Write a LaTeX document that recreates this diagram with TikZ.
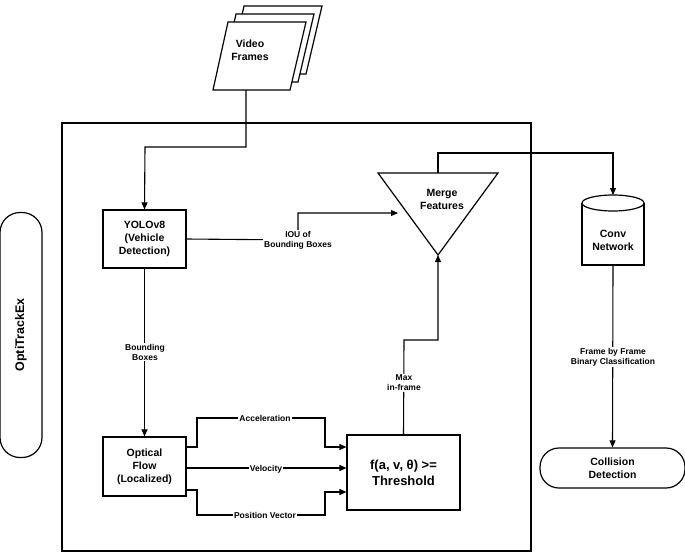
\documentclass[tikz,border=0pt]{standalone}
\usepackage{fontspec}
\setmainfont{Liberation Sans}
\usetikzlibrary{arrows.meta,shapes.geometric}
\begin{document}
\begin{tikzpicture}[x=1pt,y=-1pt,
  line width=1.2pt,
  arr/.style={-{Triangle[length=7pt,width=6pt]},line width=1.1pt},
  box/.style={draw,fill=white,font=\bfseries\fontsize{10.5}{13}\selectfont,align=center,inner sep=0pt},
  lbl/.style={fill=white,font=\bfseries\fontsize{8.5}{10}\selectfont,align=center,inner sep=1pt},
  para/.style={draw,fill=white}]
\useasboundingbox (0,0) rectangle (685,552);
% big frame
\draw (62,123) rectangle (531,551);
% video frames
\foreach \d in {16,8}{\draw[para] (228+\d,22-\d) -- (306+\d,22-\d) -- (290+\d,90-\d) -- (213+\d,90-\d) -- cycle;}
\draw[para] (228,22) -- (306,22) -- (290,90) -- (213,90) -- cycle;
\node[font=\bfseries\fontsize{10.5}{13}\selectfont,align=center] (vf) at (250,50) {Video\\Frames};
\coordinate (vfb) at (246,90);
% OptiTrackEx
\node[draw,rounded corners=20pt,minimum width=42pt,minimum height=245pt,inner sep=0pt] (opt) at (21,335) {};
\node[rotate=90,font=\bfseries\fontsize{12.5}{14}\selectfont] at (21,335) {OptiTrackEx};
% YOLO
\node[box,minimum width=83pt,minimum height=58pt] (yolo) at (144.5,239) {YOLOv8\\(Vehicle\\Detection)};
% Optical flow
\node[box,minimum width=83pt,minimum height=59pt] (of) at (144.5,466.5) {Optical\\Flow\\(Localized)};
% Threshold
\node[box,minimum width=113pt,minimum height=75pt,font=\bfseries\fontsize{13}{16}\selectfont] (th) at (403.5,472.5) {f(a, v, θ) >=\\Threshold};
% Merge triangle
\draw[fill=white] (378,173) -- (498,173) -- (438,255) -- cycle;
\node[font=\bfseries\fontsize{10.5}{13}\selectfont,align=center] (mf) at (442,199) {Merge\\Features};
\coordinate (mtop) at (438,173);
\coordinate (mapex) at (438,255);
% Conv cylinder
\draw[fill=white] (582,203) -- (582,265) -- (644,265) -- (644,203);
\draw[fill=white] (613,203) ellipse (31pt and 8pt);
\node[font=\bfseries\fontsize{10.5}{13}\selectfont,align=center] (conv) at (613,240) {Conv\\Network};
\coordinate (convt) at (613,195);
\coordinate (convb) at (613,265);
% Collision
\node[box,rounded corners=19pt,minimum width=145pt,minimum height=40pt] (col) at (612.5,468) {Collision\\Detection};
% connectors
\draw[arr] (vfb) -- (246,147) -- (145,147) -- (yolo.north);
\draw[arr] (yolo.east) -- (298,240) -- (298,213) -- (398,213);
\node[lbl] at (298,240) {IOU of\\Bounding Boxes};
\draw[arr] (yolo.south) -- (of.north);
\node[lbl] at (145,352) {Bounding\\Boxes};
\draw[arr] (of.east |- 0,447) -- (197,447) -- (197,418) -- (325,418) -- (325,447) -- (th.west |- 0,447);
\node[lbl] at (265,418) {Acceleration};
\draw[arr] (of.east |- 0,468) -- (th.west |- 0,468);
\node[lbl] at (266,469) {Velocity};
\draw[arr] (of.east |- 0,490) -- (197,490) -- (197,515) -- (325,515) -- (325,492) -- (th.west |- 0,492);
\node[lbl] at (265,515) {Position Vector};
\draw[arr] (th.north |- 0,435) -- (404,340) -- (438,340) -- (mapex);
\node[lbl] at (404,383) {Max\\in-frame};
\draw[arr] (mtop) -- (438,153) -- (613,153) -- (convt);
\draw[arr] (convb) -- (col.north);
\node[lbl] at (613,357) {Frame by Frame\\Binary Classification};
\end{tikzpicture}
\end{document}
